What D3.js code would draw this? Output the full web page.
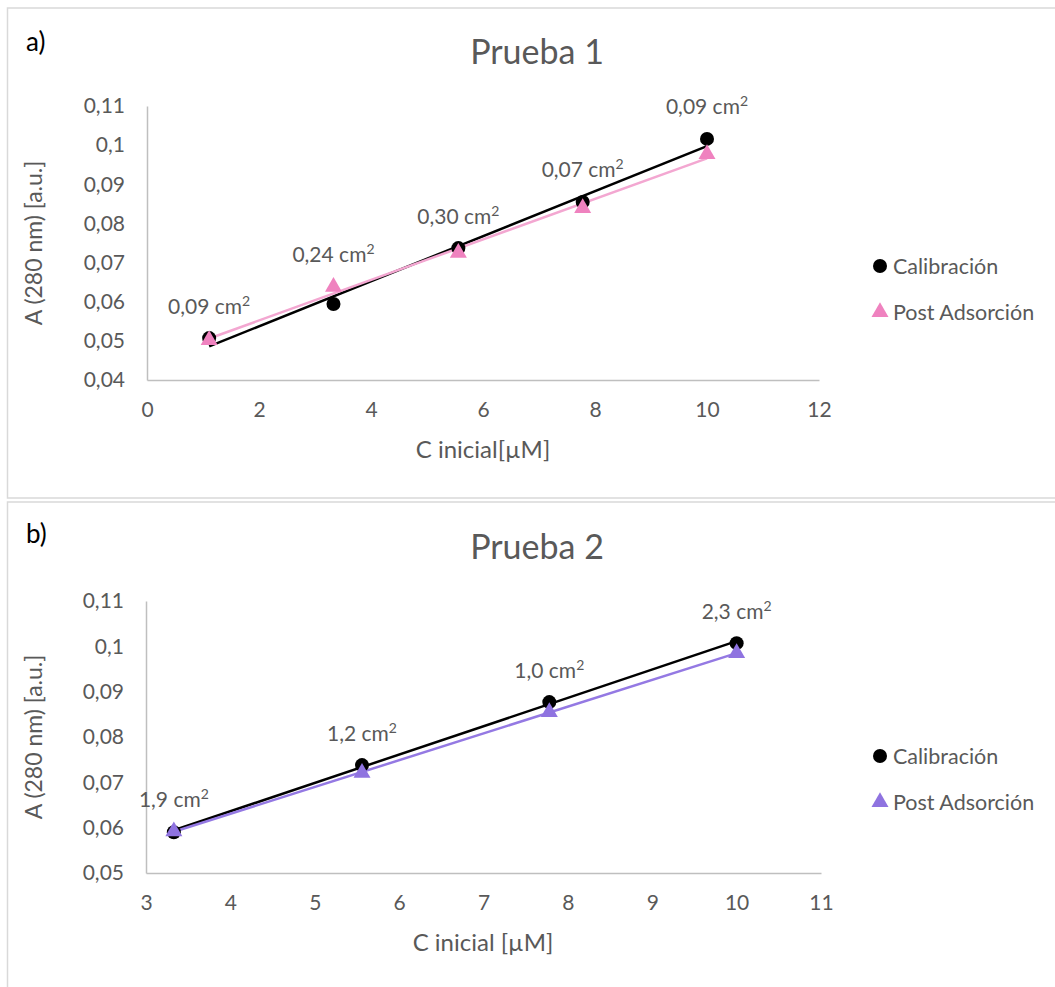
<!DOCTYPE html>
<html>
<head>
<meta charset="utf-8">
<script src="https://cdn.jsdelivr.net/npm/d3@7"></script>
<style>
  html, body { margin: 0; padding: 0; background: #fff; }
  svg { display: block; }
  text { font-family: Lato, "Open Sans", sans-serif; }
</style>
</head>
<body>
<svg id="chart" width="1055" height="987"></svg>
<script>
// ---------- data ----------
const xA = [1.11, 3.33, 5.56, 7.78, 10];
const calA = [0.0507, 0.0594, 0.0737, 0.0855, 0.1016];
const postA = [0.0502, 0.0638, 0.0725, 0.0839, 0.0977];
const labelsA = ["0,09", "0,24", "0,30", "0,07", "0,09"];
const xTicksA = [0, 2, 4, 6, 8, 10, 12];
const yTicksA = [0.04, 0.05, 0.06, 0.07, 0.08, 0.09, 0.10, 0.11];

const xB = [3.33, 5.56, 7.78, 10];
const calB = [0.0590, 0.0738, 0.0877, 0.1007];
const postB = [0.0592, 0.0721, 0.0855, 0.0985];
const labelsB = ["1,9", "1,2", "1,0", "2,3"];
const xTicksB = [3, 4, 5, 6, 7, 8, 9, 10, 11];
const yTicksB = [0.05, 0.06, 0.07, 0.08, 0.09, 0.10, 0.11];

const seriesNames = ["Calibración", "Post Adsorción"];
const titles = ["Prueba 1", "Prueba 2"];
const panelTags = ["a)", "b)"];
const xTitles = ["C inicial[µM]", "C inicial [µM]"];
const yTitle = "A (280 nm) [a.u.]";

// ---------- drawing ----------
const svg = d3.select("#chart");
const TXT = "#595959";
const AXIS = "#BFBFBF";

function fmt(v) { return String(+v.toFixed(2)).replace(".", ","); }

function linreg(xs, ys) {
  const mx = d3.mean(xs), my = d3.mean(ys);
  let sxy = 0, sxx = 0;
  xs.forEach((x, i) => { sxy += (x - mx) * (ys[i] - my); sxx += (x - mx) * (x - mx); });
  const b = sxy / sxx;
  return x => my + b * (x - mx);
}

function drawPanel(cfg) {
  const g = svg.append("g");
  // frame
  g.append("rect").attr("x", 7.5).attr("y", cfg.frameTop).attr("width", 1060).attr("height", cfg.frameH)
    .attr("fill", "none").attr("stroke", "#D9D9D9").attr("stroke-width", 1.5);

  g.append("text").attr("x", 26).attr("y", cfg.tagY).attr("font-size", 26).attr("fill", "#000").text(cfg.tag);
  g.append("text").attr("x", 537).attr("y", cfg.titleY).attr("text-anchor", "middle")
    .attr("font-size", 34).attr("fill", TXT).text(cfg.title);

  const x = d3.scaleLinear().domain(d3.extent(cfg.xTicks)).range([cfg.x0, cfg.x1]);
  const y = d3.scaleLinear().domain(d3.extent(cfg.yTicks)).range([cfg.y0, cfg.y1]);

  // axes
  const xAxis = d3.axisBottom(x).tickValues(cfg.xTicks).tickSize(0).tickPadding(22).tickFormat(d => fmt(d));
  const gx = g.append("g").attr("transform", `translate(0,${cfg.y0})`).call(xAxis);
  gx.select(".domain").attr("stroke", AXIS).attr("stroke-width", 1.5);
  gx.selectAll("text").attr("font-size", 21).attr("fill", TXT).attr("font-family", "Lato, sans-serif");

  const yAxis = d3.axisLeft(y).tickValues(cfg.yTicks).tickSize(0).tickPadding(22).tickFormat(d => fmt(d));
  const gy = g.append("g").attr("transform", `translate(${cfg.x0},0)`).call(yAxis);
  gy.select(".domain").attr("stroke", AXIS).attr("stroke-width", 1.5);
  gy.selectAll("text").attr("font-size", 21).attr("fill", TXT).attr("font-family", "Lato, sans-serif");

  // axis titles
  g.append("text").attr("x", 483).attr("y", cfg.xTitleY).attr("text-anchor", "middle")
    .attr("font-size", 24).attr("fill", TXT).text(cfg.xTitle);
  g.append("text").attr("transform", `translate(42,${(cfg.y0 + cfg.y1) / 2}) rotate(-90)`)
    .attr("text-anchor", "middle").attr("font-size", 23).attr("fill", TXT).text(yTitle);

  // trendlines
  const xe = d3.extent(cfg.xs);
  [[cfg.cal, "#000000"], [cfg.post, cfg.lineColor]].forEach(([ys, col]) => {
    const f = linreg(cfg.xs, ys);
    g.append("line").attr("x1", x(xe[0])).attr("y1", y(f(xe[0])))
      .attr("x2", x(xe[1])).attr("y2", y(f(xe[1])))
      .attr("stroke", col).attr("stroke-width", 2.5);
  });

  // markers
  g.selectAll("circle.cal").data(cfg.xs).join("circle").attr("class", "cal")
    .attr("cx", d => x(d)).attr("cy", (d, i) => y(cfg.cal[i])).attr("r", 7).attr("fill", "#000");
  const tri = d3.symbol().type(d3.symbolTriangle).size(125);
  g.selectAll("path.post").data(cfg.xs).join("path").attr("class", "post")
    .attr("d", tri).attr("fill", cfg.triColor)
    .attr("transform", (d, i) => `translate(${x(d)},${y(cfg.post[i])})`);

  // data labels
  const lab = g.selectAll("text.lab").data(cfg.labels).join("text").attr("class", "lab")
    .attr("x", (d, i) => x(cfg.xs[i]))
    .attr("y", (d, i) => y(Math.max(cfg.cal[i], cfg.post[i])) - 32 + 7.5)
    .attr("text-anchor", "middle").attr("font-size", 21).attr("fill", TXT);
  lab.append("tspan").text(d => d + " cm");
  lab.append("tspan").attr("font-size", 14).attr("dy", -8).text("2");

  // legend
  const lg = g.append("g");
  lg.append("circle").attr("cx", 880).attr("cy", cfg.legY).attr("r", 7).attr("fill", "#000");
  lg.append("path").attr("d", tri).attr("fill", cfg.triColor)
    .attr("transform", `translate(880,${cfg.legY + 46})`);
  seriesNames.forEach((s, i) => {
    lg.append("text").attr("x", 893).attr("y", cfg.legY + i * 46 + 8).attr("font-size", 21.5)
      .attr("fill", TXT).text(s);
  });
}

drawPanel({
  frameTop: 8, frameH: 490, tag: panelTags[0], tagY: 51, title: titles[0], titleY: 64,
  xTicks: xTicksA, yTicks: yTicksA, x0: 147, x1: 819, y0: 380, y1: 106,
  xTitle: xTitles[0], xTitleY: 458,
  xs: xA, cal: calA, post: postA, labels: labelsA,
  triColor: "#EF82BF", lineColor: "#F3A7D1", legY: 266
});
drawPanel({
  frameTop: 502, frameH: 500, tag: panelTags[1], tagY: 543, title: titles[1], titleY: 559,
  xTicks: xTicksB, yTicks: yTicksB, x0: 146, x1: 821, y0: 873, y1: 601,
  xTitle: xTitles[1], xTitleY: 951,
  xs: xB, cal: calB, post: postB, labels: labelsB,
  triColor: "#8F73E0", lineColor: "#9479E3", legY: 756
});
</script>
</body>
</html>
